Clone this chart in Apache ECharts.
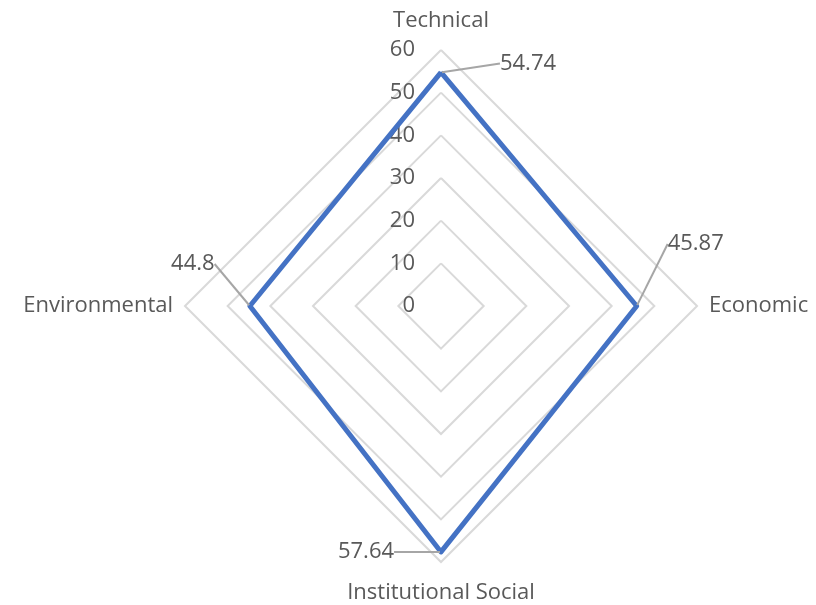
<!DOCTYPE html>
<html>
<head>
<meta charset="utf-8">
<script src="https://cdn.jsdelivr.net/npm/echarts@6/dist/echarts.min.js"></script>
<style>
  html, body { margin: 0; padding: 0; background: #fff; }
  #chart { width: 816px; height: 605px; }
</style>
</head>
<body>
<div id="chart"></div>
<script>
// Dimensions in drawing order (ECharts places radar axes counter-clockwise from the top)
const dimensions = ['Technical', 'Environmental', 'Institutional Social', 'Economic'];
const scores = [54.74, 44.8, 57.64, 45.87];
const scaleMax = 60;
const scaleStep = 10;

// Where each value label sits relative to its vertex
const labelOffsets = {
  'Technical': [87, 8],
  'Environmental': [-57, -25],
  'Institutional Social': [-75, 17],
  'Economic': [59, -45]
};
// Extra space between a dimension name and the outer ring
const namePadding = {
  'Technical': [0, 0, 6, 0],
  'Environmental': [0, 0, 0, 0],
  'Institutional Social': [8, 0, 0, 0],
  'Economic': [0, 0, 0, 0]
};

const chart = echarts.init(document.getElementById('chart'), null, { renderer: 'canvas' });
const textColor = '#595959';
const font = '"Open Sans", "Liberation Sans", sans-serif';

const nameRich = {};
dimensions.forEach((d, i) => {
  nameRich['n' + i] = { color: textColor, fontSize: 22, fontFamily: font, padding: namePadding[d] };
});

chart.setOption({
  backgroundColor: '#ffffff',
  animation: false,
  radar: {
    center: [441, 306],
    radius: 256,
    startAngle: 90,
    shape: 'polygon',
    splitNumber: scaleMax / scaleStep,
    axisName: {
      color: textColor, fontSize: 22, fontFamily: font,
      formatter: name => '{n' + dimensions.indexOf(name) + '|' + name + '}',
      rich: nameRich
    },
    nameGap: 12,
    axisLine: { show: false },
    axisTick: { show: false },
    axisLabel: { show: false },
    splitArea: { show: false },
    splitLine: { lineStyle: { color: '#d9d9d9', width: 2 } },
    indicator: dimensions.map((name, i) => ({
      name: name,
      min: 0,
      max: scaleMax,
      axisLabel: i === 0 ? {
        show: true, color: textColor, fontSize: 22, fontFamily: font,
        margin: 26, showMinLabel: true, showMaxLabel: true
      } : { show: false }
    }))
  },
  series: [{
    type: 'radar',
    symbol: 'circle',
    symbolSize: 2,
    itemStyle: { color: '#4472c4' },
    lineStyle: { color: '#4472c4', width: 5 },
    label: {
      show: true,
      color: textColor,
      fontSize: 22,
      fontFamily: font,
      padding: [0, 4],
      formatter: p => String(p.value)
    },
    labelLine: { show: true, lineStyle: { color: '#a6a6a6', width: 2 } },
    labelLayout: function (params) {
      let key = null;
      for (let i = 0; i < scores.length; i++) {
        if (String(scores[i]) === params.text) key = dimensions[i];
      }
      const off = labelOffsets[key] || [0, 0];
      return { dx: off[0], dy: off[1] };
    },
    data: [{ value: scores, name: 'Score' }]
  }]
});
</script>
</body>
</html>
